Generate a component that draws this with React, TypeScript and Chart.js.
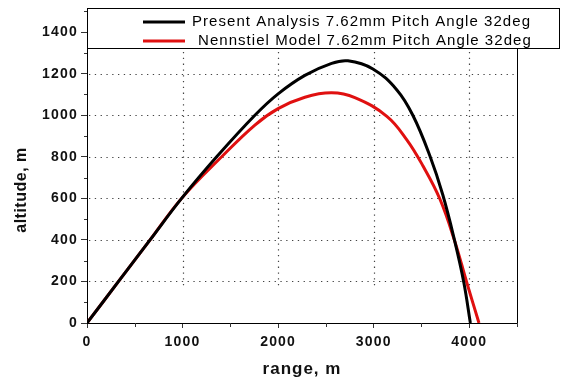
import React, { useEffect, useRef } from "react";
import { Chart, registerables } from "chart.js";

Chart.register(...registerables);

const presentRange = [0, 330, 660, 990, 1357, 1757, 2000, 2280, 2560, 2730, 2992, 3243, 3410, 3588, 3724, 3849, 3944, 4012];
const presentAltitude = [0, 200, 400, 600, 800, 1000, 1103, 1192, 1250, 1262, 1223, 1122, 1000, 805, 616, 393, 194, 0];

const nennstielRange = [0, 330, 660, 990, 1409, 1757, 2000, 2280, 2560, 2803, 3138, 3347, 3515, 3692, 3849, 3975, 4102];
const nennstielAltitude = [0, 200, 400, 600, 800, 953, 1032, 1087, 1108, 1085, 995, 882, 757, 598, 393, 194, 0];

const xTicks = [0, 1000, 2000, 3000, 4000];
const yTicks = [0, 200, 400, 600, 800, 1000, 1200, 1400];
const xMinorTicks = [500, 1500, 2500, 3500, 4500];
const yMinorTicks = [100, 300, 500, 700, 900, 1100, 1300, 1500];
const xGrid = [1000, 2000, 3000, 4000];
const yGrid = [200, 400, 600, 800, 1000, 1200, 1400];

const seriesLabels = [
  "Present Analysis 7.62mm Pitch Angle 32deg",
  "Nennstiel Model 7.62mm Pitch Angle 32deg",
];
const seriesColors = ["#000000", "#e01010"];
const xTitle = "range, m";
const yTitle = "altitude, m";

const FONT = "'Liberation Sans', Arial, sans-serif";

const overlayPlugin = {
  id: "overlay",
  beforeDraw(chart: any) {
    chart.ctx.letterSpacing = "1.2px";
  },
  beforeDatasetsDraw(chart: any) {
    const { ctx, chartArea, scales } = chart;
    const xs = scales.x;
    const ys = scales.y;
    ctx.save();
    ctx.strokeStyle = "#444";
    ctx.lineWidth = 1.2;
    ctx.setLineDash([1.3, 4.5]);
    for (const v of yGrid) {
      const py = Math.round(ys.getPixelForValue(v)) + 0.5;
      ctx.beginPath();
      ctx.moveTo(chartArea.left + 2, py);
      ctx.lineTo(chartArea.right, py);
      ctx.stroke();
    }
    const vBottom = ys.getPixelForValue(160);
    for (const v of xGrid) {
      const px = Math.round(xs.getPixelForValue(v)) + 0.5;
      ctx.beginPath();
      ctx.moveTo(px, chartArea.top);
      ctx.lineTo(px, vBottom);
      ctx.stroke();
    }
    ctx.restore();
  },
  afterDraw(chart: any) {
    const { ctx, chartArea, scales } = chart;
    const xs = scales.x;
    const ys = scales.y;
    ctx.save();
    ctx.letterSpacing = "0px";
    ctx.setLineDash([]);
    // right frame line
    ctx.strokeStyle = "#000";
    ctx.lineWidth = 1;
    ctx.beginPath();
    ctx.moveTo(chartArea.right + 0.5, chartArea.top);
    ctx.lineTo(chartArea.right + 0.5, chartArea.bottom);
    ctx.stroke();
    // minor ticks
    ctx.strokeStyle = "#333";
    for (const v of xMinorTicks) {
      const px = Math.round(xs.getPixelForValue(v)) + 0.5;
      ctx.beginPath();
      ctx.moveTo(px, chartArea.bottom);
      ctx.lineTo(px, chartArea.bottom + 4);
      ctx.stroke();
    }
    for (const v of yMinorTicks) {
      const py = Math.round(ys.getPixelForValue(v)) + 0.5;
      ctx.beginPath();
      ctx.moveTo(chartArea.left - 3, py);
      ctx.lineTo(chartArea.left, py);
      ctx.stroke();
    }
    // axis titles
    ctx.fillStyle = "#111";
    ctx.font = `bold 17px ${FONT}`;
    ctx.letterSpacing = "1px";
    ctx.textAlign = "center";
    ctx.textBaseline = "alphabetic";
    ctx.fillText(xTitle, (chartArea.left + chartArea.right) / 2, 374);
    ctx.save();
    ctx.translate(26, 190);
    ctx.rotate(-Math.PI / 2);
    ctx.font = `bold 16px ${FONT}`;
    ctx.letterSpacing = "0.5px";
    ctx.fillText(yTitle, 0, 0);
    ctx.restore();
    // legend box
    const bx = 87.5, by = 8.5, bw = 472, bh = 40;
    ctx.fillStyle = "#fff";
    ctx.fillRect(bx, by, bw, bh);
    ctx.strokeStyle = "#000";
    ctx.lineWidth = 1;
    ctx.strokeRect(bx, by, bw, bh);
    ctx.font = `15px ${FONT}`;
    ctx.letterSpacing = "1.05px";
    ctx.textBaseline = "middle";
    ctx.textAlign = "left";
    const rows = [
      { y: 22, tx: 192 },
      { y: 41, tx: 198 },
    ];
    rows.forEach((r, i) => {
      ctx.strokeStyle = seriesColors[i];
      ctx.lineWidth = 3;
      ctx.beginPath();
      ctx.moveTo(143, r.y);
      ctx.lineTo(185, r.y);
      ctx.stroke();
      ctx.fillStyle = "#000";
      ctx.fillText(seriesLabels[i], r.tx, r.y);
    });
    ctx.restore();
  },
};

export default function App() {
  const ref = useRef<HTMLCanvasElement | null>(null);
  useEffect(() => {
    if (!ref.current) return;
    const chart = new Chart(ref.current, {
      type: "scatter",
      data: {
        datasets: [
          {
            label: seriesLabels[0],
            data: presentRange.map((x, i) => ({ x, y: presentAltitude[i] })),
            borderColor: seriesColors[0],
            backgroundColor: seriesColors[0],
            borderWidth: 3,
            showLine: true,
            pointRadius: 0,
            tension: 0.4,
          },
          {
            label: seriesLabels[1],
            data: nennstielRange.map((x, i) => ({ x, y: nennstielAltitude[i] })),
            borderColor: seriesColors[1],
            backgroundColor: seriesColors[1],
            borderWidth: 3,
            showLine: true,
            pointRadius: 0,
            tension: 0.4,
          },
        ],
      },
      options: {
        animation: false,
        responsive: false,
        maintainAspectRatio: false,
        layout: { padding: { left: 0, top: 6, right: 44, bottom: 0 } },
        plugins: { legend: { display: false }, tooltip: { enabled: false } },
        scales: {
          x: {
            type: "linear",
            min: 0,
            max: 4500,
            afterBuildTicks: (s: any) => {
              s.ticks = xTicks.map((v) => ({ value: v }));
            },
            afterFit: (s: any) => {
              s.height = 59;
            },
            ticks: {
              color: "#111",
              font: { family: FONT, size: 14, weight: "bold" },
              padding: 6,
              callback: (v: any) => String(v),
            },
            grid: {
              drawOnChartArea: false,
              color: "#333",
              tickColor: "#333",
              tickLength: 5,
            },
            border: { display: true, color: "#000", width: 1 },
            title: { display: false },
          },
          y: {
            type: "linear",
            min: 0,
            max: 1500,
            afterBuildTicks: (s: any) => {
              s.ticks = yTicks.map((v) => ({ value: v }));
            },
            afterFit: (s: any) => {
              s.width = 87;
            },
            ticks: {
              color: "#111",
              font: { family: FONT, size: 14, weight: "bold" },
              padding: 3,
              callback: (v: any) => String(v),
            },
            grid: {
              drawOnChartArea: false,
              color: "#333",
              tickColor: "#333",
              tickLength: 6,
            },
            border: { display: true, color: "#000", width: 1 },
            title: { display: false },
          },
        },
      },
      plugins: [overlayPlugin],
    } as any);
    return () => chart.destroy();
  }, []);
  return (
    <div style={{ position: "fixed", left: 0, top: 0, width: 561, height: 382, background: "#fff" }}>
      <canvas ref={ref} width={561} height={382} style={{ display: "block" }} />
    </div>
  );
}
